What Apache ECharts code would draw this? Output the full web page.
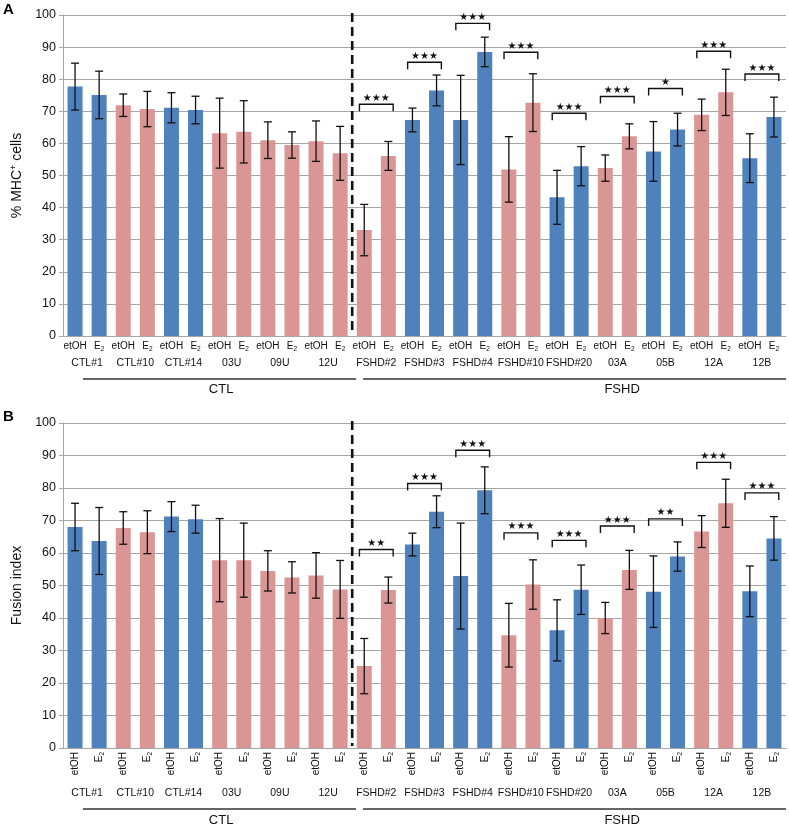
<!DOCTYPE html>
<html><head><meta charset="utf-8">
<script src="https://cdn.jsdelivr.net/npm/echarts@6/dist/echarts.min.js"></script>
<style>html,body{margin:0;padding:0;background:#fff}#c{width:789px;height:828px}</style>
</head><body><div id="c"></div>
<script>
// ---------------- DATA ----------------
const groups = ['CTL#1','CTL#10','CTL#14','03U','09U','12U','FSHD#2','FSHD#3','FSHD#4','FSHD#10','FSHD#20','03A','05B','12A','12B'];
const conditions = ['etOH','E2'];
const yTickLabels = [0,10,20,30,40,50,60,70,80,90,100];

// Panel A: % MHC+ cells
const mhcEtOH    = [77.7, 71.9, 71.1, 63.2, 61.0, 60.7, 33.0, 67.3, 67.3, 51.9, 43.2, 52.3, 57.5, 68.9, 55.4];
const mhcE2      = [75.1, 70.7, 70.4, 63.6, 59.5, 56.9, 56.1, 76.5, 88.5, 72.7, 52.9, 62.2, 64.3, 75.9, 68.2];
const mhcEtOHErr = [7.3, 3.5, 4.7, 10.9, 5.7, 6.3, 8.0, 3.7, 13.9, 10.2, 8.4, 4.1, 9.3, 4.9, 7.6];
const mhcE2Err   = [7.4, 5.5, 4.3, 9.7, 4.1, 8.4, 4.5, 4.8, 4.6, 9.0, 6.1, 3.9, 5.1, 7.2, 6.2];
const mhcSigGroups = [6,7,8,9,10,11,12,13,14];
const mhcSigLabels = ['***','***','***','***','***','***','*','***','***'];
const mhcSigLevel  = [72.2, 85.3, 97.4, 88.4, 69.4, 74.6, 77.1, 88.7, 81.6];

// Panel B: Fusion index
const fusEtOH    = [68.0, 67.7, 71.2, 57.8, 54.5, 53.1, 25.2, 62.6, 52.9, 34.7, 36.2, 40.0, 48.1, 66.6, 48.2];
const fusE2      = [63.7, 66.4, 70.4, 57.8, 52.5, 48.8, 48.6, 72.7, 79.3, 50.3, 48.7, 54.8, 58.9, 75.3, 64.5];
const fusEtOHErr = [7.3, 5.0, 4.6, 12.8, 6.2, 7.0, 8.5, 3.5, 16.3, 9.8, 9.4, 4.8, 11.0, 4.9, 7.8];
const fusE2Err   = [10.3, 6.6, 4.3, 11.4, 4.8, 8.9, 4.0, 4.9, 7.2, 7.6, 7.6, 6.0, 4.5, 7.4, 6.7];
const fusSigGroups = [6,7,8,9,10,11,12,13,14];
const fusSigLabels = ['**','***','***','***','***','***','**','***','***'];
const fusSigLevel  = [61.1, 81.4, 91.6, 66.2, 63.9, 68.3, 70.5, 87.9, 78.5];

const cohortNames = ['CTL','FSHD'];
const cohortSplit = 6; // first FSHD group index

// ---------------- STYLE ----------------
const BLUE = '#4F81BD', PINK = '#D99694';
const groupColors = [BLUE,PINK,BLUE,PINK,PINK,PINK,PINK,BLUE,BLUE,PINK,BLUE,PINK,BLUE,PINK,BLUE];
const FONT = 'Liberation Sans, Arial, sans-serif';
const GRAY = '#a6a6a6';

const cats = [];
groups.forEach(g => conditions.forEach(c => cats.push(g + '|' + c)));
function interleave(a, b) { const r = []; a.forEach((v, i) => r.push(v, b[i])); return r; }

const richLbl = {
  n: {fontSize: 10, fontFamily: FONT, color: '#111', lineHeight: 13},
  e: {fontSize: 10, fontFamily: FONT, color: '#111', lineHeight: 13},
  s: {fontSize: 6.5, fontFamily: FONT, color: '#111', lineHeight: 13, verticalAlign: 'bottom', padding: [4, 0, 0, 0]}
};
function condFmt(v) { const c = v.split('|')[1]; return c === 'E2' ? '{e|E}{s|2}' : '{n|etOH}'; }

function panel(pi, cfg) {
  const xi = pi * 2;
  const xAxes = [
    {type: 'category', gridIndex: pi, data: cats, position: 'bottom',
     axisLine: {lineStyle: {color: GRAY, width: 1}},
     axisTick: {length: cfg.tickSmall, interval: 0, lineStyle: {color: GRAY}},
     axisLabel: {interval: 0, margin: cfg.lblMargin, rotate: cfg.rotate, formatter: condFmt, rich: richLbl},
     splitLine: {show: false}},
    {type: 'category', gridIndex: pi, data: groups, position: 'bottom',
     axisLine: {show: false},
     axisTick: {length: cfg.tickBig, interval: 0, lineStyle: {color: GRAY}},
     axisLabel: {interval: 0, margin: cfg.grpMargin, fontSize: 10.5, fontFamily: FONT, color: '#111'},
     splitLine: {show: false}}
  ];
  const yAxis = {type: 'value', gridIndex: pi, min: yTickLabels[0], max: yTickLabels[yTickLabels.length - 1], interval: 10,
    name: cfg.yName, nameLocation: 'middle', nameGap: 35, nameRotate: 90,
    nameTextStyle: {fontSize: 14, fontFamily: FONT, color: '#111', rich: {sup: {fontSize: 9, fontFamily: FONT, color: '#111', verticalAlign: 'top', lineHeight: 16}, t: {fontSize: 14, fontFamily: FONT, color: '#111', lineHeight: 16}}},
    axisLine: {show: true, lineStyle: {color: GRAY}},
    axisTick: {show: true, length: 4, lineStyle: {color: GRAY}},
    axisLabel: {fontSize: 12.5, fontFamily: FONT, color: '#111', margin: 7},
    splitLine: {lineStyle: {color: GRAY, width: 1.2}}};

  const vals = interleave(cfg.et, cfg.e2);
  const errs = interleave(cfg.etErr, cfg.e2Err);
  const series = [
    {type: 'bar', xAxisIndex: xi, yAxisIndex: pi, barWidth: 15,
     data: vals.map((v, i) => ({value: v, itemStyle: {color: groupColors[Math.floor(i / 2)]}})), z: 2},
    {type: 'custom', xAxisIndex: xi, yAxisIndex: pi, z: 5, silent: true,
     encode: {x: 0, y: 1},
     data: vals.map((v, i) => [i, v, errs[i]]),
     renderItem: function (params, api) {
       const i = api.value(0), v = api.value(1), e = api.value(2);
       const hi = api.coord([i, v + e]), lo = api.coord([i, v - e]);
       const x = hi[0], cap = 4;
       const st = {stroke: '#111', lineWidth: 1.3};
       return {type: 'group', children: [
         {type: 'line', shape: {x1: x, y1: hi[1], x2: x, y2: lo[1]}, style: st},
         {type: 'line', shape: {x1: x - cap, y1: hi[1], x2: x + cap, y2: hi[1]}, style: st},
         {type: 'line', shape: {x1: x - cap, y1: lo[1], x2: x + cap, y2: lo[1]}, style: st}
       ]};
     }},
    {type: 'custom', xAxisIndex: xi, yAxisIndex: pi, z: 6, silent: true, clip: false,
     encode: {x: 0, y: 1},
     data: cfg.sigGroups.map((g, k) => [2 * g, cfg.sigLevel[k]]),
     renderItem: function (params, api) {
       const i = api.value(0), lvl = api.value(1);
       const p0 = api.coord([i, lvl]), p1 = api.coord([i + 1, lvl]);
       const bw = api.size([1, 0])[0];
       const cx = (p0[0] + p1[0]) / 2, half = 0.7 * bw, y = p0[1], leg = 7;
       const st = {stroke: '#111', lineWidth: 1.4};
       const stars = cfg.sigLabels[params.dataIndex].replace(/\*/g, '\u2605');
       return {type: 'group', children: [
         {type: 'polyline', shape: {points: [[cx - half, y + leg], [cx - half, y], [cx + half, y], [cx + half, y + leg]]}, style: Object.assign({fill: null}, st)},
         {type: 'text', x: cx, y: y - 1, style: {text: stars, fill: '#111', fontSize: 10, fontFamily: 'DejaVu Sans', align: 'center', verticalAlign: 'bottom'}}
       ]};
     }},
    {type: 'custom', xAxisIndex: xi, yAxisIndex: pi, z: 7, silent: true, clip: false,
     encode: {x: 0, y: 1},
     data: [[0, 0]],
     renderItem: function (params, api) {
       const o = api.coord([0, 0]);
       const top = api.coord([0, 100])[1];
       const bw = api.size([1, 0])[0];
       const left = o[0] - bw / 2, y0 = o[1];
       const X = p => left + p * bw;
       const split = cohortSplit * 2;
       const lineSt = {stroke: '#333', lineWidth: 1.5};
       const txt = (t, p) => ({type: 'text', x: X(p), y: y0 + cfg.cohortLbl, style: {text: t, fill: '#111', fontSize: 13, fontFamily: FONT, align: 'center', verticalAlign: 'middle'}});
       return {type: 'group', children: [
         {type: 'line', shape: {x1: X(split), y1: top - 2, x2: X(split), y2: y0 - 2}, style: {stroke: '#111', lineWidth: 2.6, lineDash: [9, 5]}},
         {type: 'line', shape: {x1: X(0.83), y1: y0 + cfg.cohortLine, x2: X(split + 0.16), y2: y0 + cfg.cohortLine}, style: lineSt},
         {type: 'line', shape: {x1: X(split + 0.45), y1: y0 + cfg.cohortLine, x2: X(cats.length), y2: y0 + cfg.cohortLine}, style: lineSt},
         txt(cohortNames[0], 6.56), txt(cohortNames[1], 23.2)
       ]};
     }}
  ];
  return {xAxes, yAxis, series};
}

const A = panel(0, {et: mhcEtOH, e2: mhcE2, etErr: mhcEtOHErr, e2Err: mhcE2Err,
  sigGroups: mhcSigGroups, sigLabels: mhcSigLabels, sigLevel: mhcSigLevel,
  yName: '{t|% MHC}{sup|+}{t| cells}', tickSmall: 16, tickBig: 34, lblMargin: 4, grpMargin: 22, rotate: 0,
  cohortLine: 43, cohortLbl: 53});
const B = panel(1, {et: fusEtOH, e2: fusE2, etErr: fusEtOHErr, e2Err: fusE2Err,
  sigGroups: fusSigGroups, sigLabels: fusSigLabels, sigLevel: fusSigLevel,
  yName: 'Fusion index', tickSmall: 32, tickBig: 52, lblMargin: 4, grpMargin: 40, rotate: 90,
  cohortLine: 61, cohortLbl: 72});

const chart = echarts.init(document.getElementById('c'), null, {renderer: 'canvas'});
chart.setOption({
  animation: false,
  backgroundColor: '#fff',
  grid: [
    {left: 63, right: 3, top: 15, height: 321},
    {left: 63, right: 3, top: 423, height: 325}
  ],
  xAxis: A.xAxes.concat(B.xAxes),
  yAxis: [A.yAxis, B.yAxis],
  series: A.series.concat(B.series),
  graphic: [
    {type: 'text', left: 3, top: 2, style: {text: 'A', fontSize: 15, fontWeight: 'bold', fontFamily: FONT, fill: '#000'}},
    {type: 'text', left: 3, top: 409, style: {text: 'B', fontSize: 15, fontWeight: 'bold', fontFamily: FONT, fill: '#000'}}
  ]
});
</script>
</body></html>
